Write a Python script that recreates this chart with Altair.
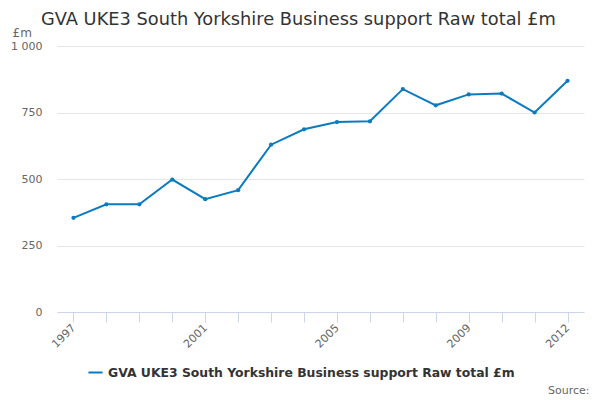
import altair as alt
import pandas as pd

years = [str(y) for y in range(1997, 2013)]
values = [354, 405, 405, 498, 424, 458, 629, 687, 714, 717, 838, 777, 818, 821, 750, 869]
series = "GVA UKE3 South Yorkshire Business support Raw total £m"
shown_years = ["1997", "2001", "2005", "2009", "2012"]

df = pd.DataFrame({"year": years, "value": values, "series": series})

line_color = "#0b7bc1"
font = "DejaVu Sans"

chart = alt.Chart(df).mark_line(
    strokeWidth=2,
    point=alt.OverlayMarkDef(filled=True, size=18, color=line_color),
).encode(
    alt.X("year:O")
        .scale(type="point", padding=0.5)
        .axis(
            title="Source:",
            titleX=532, titleY=72, titleAlign="right", titleAnchor="end",
            titleBaseline="top",
            titleFontSize=11, titleFontWeight="normal", titleColor="#666666",
            titleFont=font,
            labelExpr="indexof(" + str(shown_years) + ", datum.label) >= 0 ? datum.label : ''",
            labelAngle=-45, labelAlign="right", labelBaseline="middle",
            labelColor="#666666", labelFontSize=11, labelFont=font,
            labelPadding=4,
            domainColor="#ccd6eb", tickColor="#ccd6eb", tickSize=10,
            grid=False,
        ),
    alt.Y("value:Q")
        .scale(domain=[0, 1000], nice=False)
        .axis(
            title="£m", titleAngle=0, titleX=-45, titleY=-10,
            titleAlign="left", titleBaseline="alphabetic",
            titleFontSize=12, titleFontWeight="normal", titleColor="#666666",
            titleFont=font,
            values=[0, 250, 500, 750, 1000],
            labelExpr="replace(format(datum.value, ','), ',', ' ')",
            labelColor="#666666", labelFontSize=11, labelFont=font,
            labelPadding=15,
            domain=False, ticks=False,
            gridColor="#e6e6e6",
        ),
    alt.Color("series:N")
        .scale(range=[line_color])
        .legend(
            title=None, orient="none", legendX=30, legendY=318,
            labelFontSize=12.4, labelFontWeight="bold", labelColor="#333333",
            labelFont=font, symbolType="stroke", symbolStrokeWidth=2,
            symbolSize=200, labelLimit=500,
        ),
).properties(
    width=527,
    height=266,
    padding={"left": 49, "top": 38, "right": 8, "bottom": 84},
    autosize=alt.AutoSizeParams(type="none"),
    title=alt.Title(
        text="GVA UKE3 South Yorkshire Business support Raw total £m",
        anchor="start", frame="group", dx=-16, offset=-3,
        fontSize=17.8, fontWeight="normal", color="#333333", font=font,
    ),
).configure_view(
    stroke=None
)

chart.save("out.html", embed_options={"renderer": "svg", "actions": False})
